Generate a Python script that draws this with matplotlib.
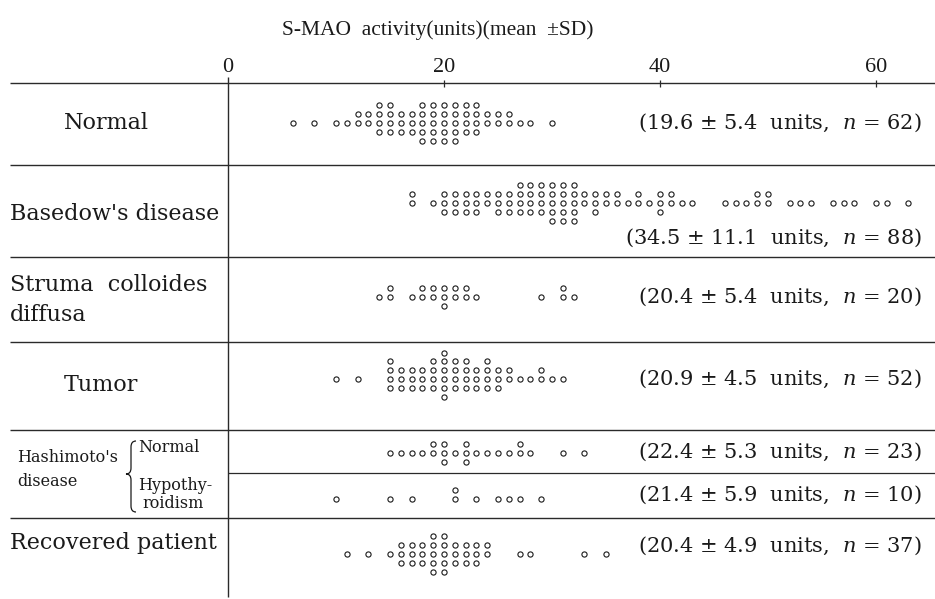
import matplotlib.pyplot as plt
from matplotlib.path import Path
from matplotlib.patches import PathPatch
import numpy as np

plt.rcParams['font.family'] = 'DejaVu Serif'
plt.rcParams['mathtext.fontset'] = 'dejavuserif'

# S-MAO activity (units): value of each dot column and number of cases in it
normal_val = [6, 8, 10, 11, 12, 13, 14, 15, 16, 17, 18, 19, 20, 21, 22, 23, 24, 25, 26, 27, 28, 30]
normal_cnt = [1, 1, 1, 1, 2, 2, 4, 4, 3, 3, 5, 5, 5, 5, 4, 4, 2, 2, 2, 1, 1, 1]

basedow_val = [17, 19, 20, 21, 22, 23, 24, 25, 26, 27, 28, 29, 30, 31, 32, 33, 34, 35, 36,
               37, 38, 39, 40, 41, 42, 43, 46, 47, 48, 49, 50, 52, 53, 54, 56, 57, 58, 60, 61, 63]
basedow_cnt = [2, 1, 3, 3, 3, 3, 2, 3, 3, 4, 4, 4, 5, 5, 5, 2, 3, 2, 2,
               1, 2, 1, 3, 2, 1, 1, 1, 1, 1, 2, 2, 1, 1, 1, 1, 1, 1, 1, 1, 1]

struma_val = [14, 15, 17, 18, 19, 20, 21, 22, 23, 29, 31, 32]
struma_cnt = [1, 2, 1, 2, 2, 3, 2, 2, 1, 1, 2, 1]

tumor_val = [10, 12, 15, 16, 17, 18, 19, 20, 21, 22, 23, 24, 25, 26, 27, 28, 29, 30, 31]
tumor_cnt = [1, 1, 4, 3, 3, 3, 4, 6, 4, 4, 3, 4, 3, 2, 1, 1, 2, 1, 1]

hashi_norm_val = [15, 16, 17, 18, 19, 20, 21, 22, 23, 24, 25, 26, 27, 28, 31, 33]
hashi_norm_cnt = [1, 1, 1, 1, 2, 3, 1, 3, 1, 1, 1, 1, 2, 1, 1, 1]

hashi_hypo_val = [10, 15, 17, 21, 23, 25, 26, 27, 29]
hashi_hypo_cnt = [1, 1, 1, 2, 1, 1, 1, 1, 1]

recov_val = [11, 13, 15, 16, 17, 18, 19, 20, 21, 22, 23, 24, 27, 28, 33, 35]
recov_cnt = [1, 1, 1, 3, 3, 3, 5, 5, 3, 3, 3, 2, 1, 1, 1, 1]

means = [19.6, 34.5, 20.4, 20.9, 22.4, 21.4, 20.4]
sds = [5.4, 11.1, 5.4, 4.5, 5.3, 5.9, 4.9]
ns = [62, 88, 20, 52, 23, 10, 37]
ticks = [0, 20, 40, 60]

# layout in pixel rows (image is 935 x 599)
row_mid = [123, 203, 297, 379, 453, 499, 554]
note_y = [123, 238, 297, 379, 452, 495, 546]
gap = 8.8
x0, px_per_unit = 228, 10.8

fig = plt.figure(figsize=(9.35, 5.99), dpi=100)
bg = fig.add_axes([0, 0, 1, 1])
bg.set_xlim(0, 935)
bg.set_ylim(599, 0)
bg.axis('off')

ax = fig.add_axes([0, 0, 1, 1])
ax.set_xlim(-x0 / px_per_unit, (935 - x0) / px_per_unit)
ax.set_ylim(599, 0)
ax.axis('off')
ax.patch.set_alpha(0)

ink = '#1a1a1a'
rule = '#2a2a2a'

# frame lines
bg.hlines([83, 165, 257, 342, 430, 518], 10, 935, color=rule, lw=1.0)
ax.hlines(473, 0, 80, color=rule, lw=0.9)
ax.vlines(0, 77, 597, color=rule, lw=1.0)
for t in ticks[1:]:
    ax.vlines(t, 80, 87, color=rule, lw=0.9)
for t in ticks:
    ax.text(t, 68, str(t), ha='center', va='center', fontsize=16,
            family='Liberation Serif', color=ink)
bg.text(438, 30, 'S-MAO  activity(units)(mean  \u00b1SD)', ha='center', va='center',
        fontsize=15.5, family='Liberation Serif', color=ink)


def stack(vals, cnts):
    xs, lv = [], []
    for v, c in zip(vals, cnts):
        for k in range(c):
            xs.append(v)
            lv.append(k - c // 2)
    return np.array(xs), np.array(lv)


series = [(normal_val, normal_cnt), (basedow_val, basedow_cnt), (struma_val, struma_cnt),
          (tumor_val, tumor_cnt), (hashi_norm_val, hashi_norm_cnt),
          (hashi_hypo_val, hashi_hypo_cnt), (recov_val, recov_cnt)]

for (vals, cnts), ym in zip(series, row_mid):
    xs, lv = stack(vals, cnts)
    ax.scatter(xs, ym + lv * gap, s=14, facecolors='white', edgecolors=ink,
               linewidths=0.8, zorder=3)

for m, s, n, y in zip(means, sds, ns, note_y):
    bg.text(922, y, '(%.1f \u00b1 %.1f  units,  $n$ = %d)' % (m, s, n), ha='right',
            va='center', fontsize=15, color=ink)

# row labels
lab = dict(fontsize=16, color=ink, va='center')
bg.text(106, 123, 'Normal', ha='center', **lab)
bg.text(10, 214, "Basedow's disease", ha='left', **lab)
bg.text(10, 285, 'Struma  colloides', ha='left', **lab)
bg.text(10, 315, 'diffusa', ha='left', **lab)
bg.text(101, 385, 'Tumor', ha='center', **lab)
bg.text(10, 543, 'Recovered patient', ha='left', **lab)

small = dict(fontsize=11.5, color=ink, va='center')
bg.text(17, 457, "Hashimoto's", ha='left', **small)
bg.text(17, 481, 'disease', ha='left', **small)
bg.text(138, 447, 'Normal', ha='left', **small)
bg.text(138, 485, 'Hypothy-', ha='left', **small)
bg.text(142, 503, 'roidism', ha='left', **small)

# curly brace joining the two Hashimoto sub-rows
bx, top, mid, bot = 131, 441, 474, 512
verts = [(bx + 5, top), (bx, top), (bx, top + 6), (bx, mid - 6), (bx, mid), (bx - 5, mid),
         (bx, mid), (bx, mid + 6), (bx, bot - 6), (bx, bot), (bx + 5, bot)]
codes = [Path.MOVETO, Path.CURVE3, Path.CURVE3, Path.LINETO, Path.CURVE3, Path.CURVE3,
         Path.CURVE3, Path.CURVE3, Path.LINETO, Path.CURVE3, Path.CURVE3]
bg.add_patch(PathPatch(Path(verts, codes), fill=False, edgecolor=ink, lw=0.9))

fig.savefig('out.png', dpi=100)
